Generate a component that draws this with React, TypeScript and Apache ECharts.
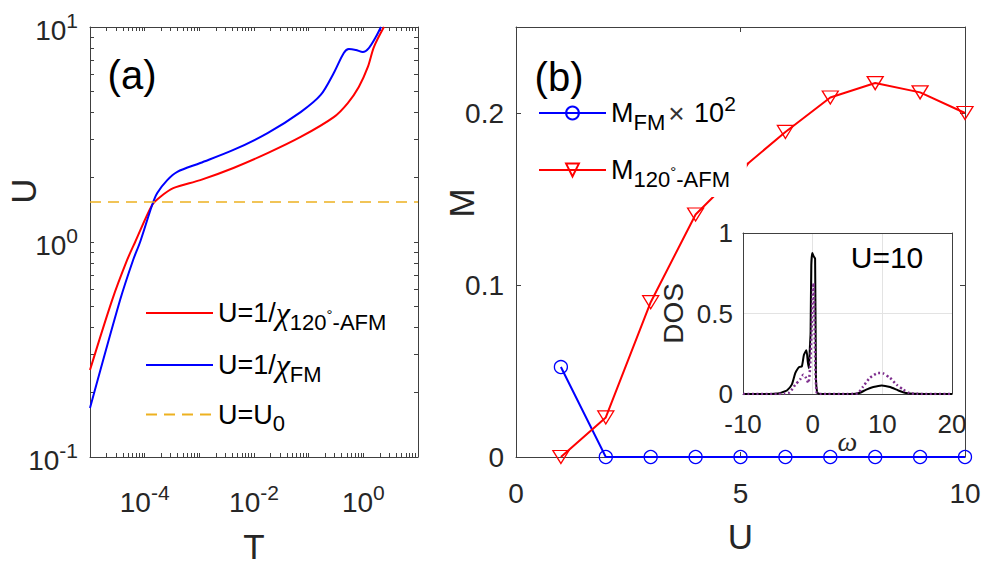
import React, { useEffect, useRef } from 'react';
import * as echarts from 'echarts';

// ---------- Panel (a): U vs T (log-log) ----------
const tAFM = [1e-5, 2.54e-5, 4.78e-5, 6.7e-5, 1.37e-4, 1.92e-4, 3.33e-4, 1.04e-3, 4.2e-3, 0.0177, 0.0713, 0.288, 0.52, 0.826, 1.21, 1.56, 2.38];
const uAFM = [0.254, 0.537, 0.825, 1.0, 1.486, 1.62, 1.78, 1.94, 2.21, 2.59, 3.08, 3.81, 4.43, 5.26, 6.52, 8.07, 10.0];
const tFM = [1e-5, 3.55e-5, 6.15e-5, 8.26e-5, 1.37e-4, 1.7e-4, 2.59e-4, 3.95e-4, 1.04e-3, 4.2e-3, 0.0177, 0.0713, 0.166, 0.288, 0.439, 0.542, 0.728, 0.98, 1.26, 1.69, 2.1];
const uFM = [0.169, 0.537, 0.825, 1.0, 1.486, 1.69, 1.94, 2.12, 2.33, 2.68, 3.21, 4.02, 4.83, 6.11, 7.57, 7.9, 7.82, 7.65, 7.98, 8.98, 10.0];
const U0 = 1.535;
const tLimits = [1e-5, 10];
const uLimits = [0.1, 10];
const aXLabelExps = [-4, -2, 0];
const aYLabelExps = [-1, 0, 1];

// ---------- Panel (b): M vs U ----------
const uSweep = [1, 2, 3, 4, 5, 6, 7, 8, 9, 10];
const mFM = [0.0523, 0, 0, 0, 0, 0, 0, 0, 0, 0];
const mAFM = [0, 0.023, 0.09, 0.141, 0.167, 0.189, 0.209, 0.2174, 0.212, 0.2];
const bYTicks = [0, 0.1, 0.2];

// ---------- Inset: DOS vs omega ----------
const omegaTotal = [-10, -6, -5, -4.4, -3.7, -3.0, -2.5, -2.1, -1.9, -1.55, -1.25, -0.9, -0.7, -0.55, -0.4, -0.3, -0.2, -0.05, 0.15, 0.35, 0.47, 0.65, 1.0, 3, 5, 6.2, 6.8, 7.7, 8.7, 9.9, 11.1, 12.3, 13.4, 14.5, 17, 20];
const dosTotal = [0, 0, 0.003, 0.01, 0.022, 0.058, 0.13, 0.16, 0.168, 0.172, 0.244, 0.271, 0.2, 0.16, 0.29, 0.38, 0.8, 0.876, 0.855, 0.84, 0.11, 0.01, 0, 0, 0, 0.002, 0.008, 0.027, 0.043, 0.053, 0.043, 0.022, 0.006, 0.001, 0, 0];
const omegaPart = [-10, -5, -4, -3.3, -2.5, -1.8, -1.34, -0.96, -0.62, -0.39, -0.15, 0.04, 0.12, 0.2, 0.37, 0.57, 1, 5, 5.8, 6.5, 7.2, 8.2, 9.4, 10.1, 11.1, 12.05, 13, 13.9, 15, 20];
const dosPart = [0, 0, 0.003, 0.01, 0.058, 0.09, 0.12, 0.1, 0.068, 0.15, 0.4, 0.65, 0.69, 0.6, 0.19, 0.01, 0, 0, 0.001, 0.005, 0.043, 0.1, 0.13, 0.128, 0.1, 0.058, 0.027, 0.006, 0.001, 0];

const FONT = '"Liberation Sans", Arial, Helvetica, sans-serif';
const SERIF = '"Liberation Serif", "DejaVu Serif", serif';
const TXT = '#262626';
const AXC = '#404040';
const RED = '#ff0000';
const BLUE = '#0000ff';
const ORANGE = '#EDB120';
const PURPLE = '#7E2F8E';

const zip = (a: number[], b: number[]) => a.map((v, i) => [v, b[i]]);

// log-decade tick positions (in log10 space) for the decorative axes of panel (a)
function logTicks(lo: number, hi: number): number[] {
  const out: number[] = [];
  for (let n = lo; n < hi; n++) for (let k = 1; k <= 9; k++) out.push(n + Math.log10(k));
  out.push(hi);
  return out;
}

const supRich = {
  b: { fontSize: 28, lineHeight: 34, verticalAlign: 'bottom', color: TXT, fontFamily: FONT },
  p: { fontSize: 21, lineHeight: 34, verticalAlign: 'top', color: TXT, fontFamily: FONT },
};

const legendText: Record<string, string> = {
  afm: '{b|U=1/}{c|χ}{s|120}{d|°}{s|-AFM}',
  fm: '{b|U=1/}{c|χ}{s|FM}',
  u0: '{b|U=U}{s|0}',
  mfm: '{b|M}{s|FM}{x|×}{b| 10}{p|2}',
  mafm: '{b|M}{s|120}{d|°}{s|-AFM}',
};

const legendRich = {
  b: { fontSize: 27, lineHeight: 40, verticalAlign: 'middle', fontFamily: FONT, color: '#000' },
  c: { fontSize: 32, lineHeight: 40, verticalAlign: 'middle', fontFamily: SERIF, fontStyle: 'italic', color: '#000' },
  s: { fontSize: 22, lineHeight: 40, verticalAlign: 'bottom', fontFamily: FONT, color: '#000' },
  d: { fontSize: 15, lineHeight: 40, verticalAlign: 'top', padding: [14, 0, 0, 0], fontFamily: FONT, color: '#000' },
  x: { fontSize: 28, lineHeight: 40, verticalAlign: 'middle', padding: [0, 2, 0, 3], fontFamily: FONT, color: '#333' },
  p: { fontSize: 21, lineHeight: 40, verticalAlign: 'top', fontFamily: FONT, color: '#000' },
};

const nameStyle = (extra: any = {}) => ({ fontSize: 35, color: TXT, fontFamily: FONT, ...extra });
const line = { show: true, onZero: false, lineStyle: { color: AXC, width: 1 } };
const tick = (len: number, custom?: number[]) => ({
  show: true, inside: true, length: len, lineStyle: { color: AXC, width: 1 },
  ...(custom ? { customValues: custom } : {}),
});

function buildOption() {
  const aXTicks = logTicks(-5, 1);
  const aYTicks = logTicks(-1, 1);
  const triDown = 'path://M0,0L20,0L10,17Z';

  return {
    animation: false,
    backgroundColor: '#fff',
    grid: [
      { left: 90, top: 27, width: 328, height: 430 },
      { left: 516, top: 27, width: 449, height: 430 },
      { left: 743, top: 233, width: 209, height: 161, show: true, backgroundColor: '#fff', borderWidth: 0 },
      { left: 90, top: 27, width: 328, height: 430 },
    ],
    xAxis: [
      { gridIndex: 0, type: 'log', logBase: 10, min: tLimits[0], max: tLimits[1], show: false },
      {
        gridIndex: 1, type: 'value', min: 0, max: 10, interval: 5, position: 'bottom',
        axisLine: line, axisTick: tick(5), splitLine: { show: false },
        axisLabel: { fontSize: 28, color: TXT, fontFamily: FONT, margin: 22 },
        name: 'U', nameLocation: 'middle', nameGap: 62, nameMoveOverlap: false, nameTextStyle: nameStyle(),
      },
      {
        gridIndex: 1, type: 'value', min: 0, max: 10, interval: 5, position: 'top',
        axisLine: line, axisTick: tick(5), axisLabel: { show: false }, splitLine: { show: false },
      },
      {
        gridIndex: 2, type: 'value', min: -10, max: 20, interval: 10, position: 'bottom',
        axisLine: line, axisTick: { show: false },
        splitLine: { show: true, lineStyle: { color: '#e3e3e3', width: 1 } },
        axisLabel: { fontSize: 26, color: TXT, fontFamily: FONT, margin: 17 },
        name: 'ω', nameLocation: 'middle', nameGap: 33, nameMoveOverlap: false,
        nameTextStyle: { fontSize: 28, color: TXT, fontFamily: SERIF, fontStyle: 'italic' },
      },
      {
        gridIndex: 2, type: 'value', min: -10, max: 20, position: 'top',
        axisLine: line, axisTick: { show: false }, axisLabel: { show: false }, splitLine: { show: false },
      },
      {
        gridIndex: 3, type: 'value', min: -5, max: 1, position: 'bottom',
        axisLine: line, axisTick: tick(4, aXTicks), splitLine: { show: false },
        axisLabel: {
          customValues: aXLabelExps, margin: 25, fontSize: 28, color: TXT, fontFamily: FONT,
          formatter: (v: number) => `{b|10}{p|${v}}`, rich: supRich,
        },
        name: 'T', nameLocation: 'middle', nameGap: 72, nameMoveOverlap: false, nameTextStyle: nameStyle(),
      },
      {
        gridIndex: 3, type: 'value', min: -5, max: 1, position: 'top',
        axisLine: line, axisTick: tick(4, aXTicks), axisLabel: { show: false }, splitLine: { show: false },
      },
    ],
    yAxis: [
      { gridIndex: 0, type: 'log', logBase: 10, min: uLimits[0], max: uLimits[1], show: false },
      {
        gridIndex: 1, type: 'value', min: 0, max: 0.25, position: 'left',
        axisLine: line, axisTick: tick(5, bYTicks), splitLine: { show: false },
        axisLabel: { customValues: bYTicks, fontSize: 28, color: TXT, fontFamily: FONT, margin: 12 },
        name: 'M', nameLocation: 'middle', nameGap: 37, nameMoveOverlap: false,
        nameTextStyle: nameStyle({ padding: [0, 0, 0, 78] }),
      },
      {
        gridIndex: 1, type: 'value', min: 0, max: 0.25, position: 'right',
        axisLine: line, axisTick: tick(5, bYTicks), axisLabel: { show: false }, splitLine: { show: false },
      },
      {
        gridIndex: 2, type: 'value', min: 0, max: 1, interval: 0.5, position: 'left',
        axisLine: line, axisTick: { show: false },
        splitLine: { show: true, lineStyle: { color: '#e3e3e3', width: 1 } },
        axisLabel: { fontSize: 26, color: TXT, fontFamily: FONT, margin: 10 },
        name: 'DOS', nameLocation: 'middle', nameGap: 56, nameMoveOverlap: false,
        nameTextStyle: { fontSize: 28, color: TXT, fontFamily: FONT },
      },
      {
        gridIndex: 2, type: 'value', min: 0, max: 1, position: 'right',
        axisLine: line, axisTick: { show: false }, axisLabel: { show: false }, splitLine: { show: false },
      },
      {
        gridIndex: 3, type: 'value', min: -1, max: 1, position: 'left',
        axisLine: line, axisTick: tick(4, aYTicks), splitLine: { show: false },
        axisLabel: {
          customValues: aYLabelExps, margin: 12, fontSize: 28, color: TXT, fontFamily: FONT,
          formatter: (v: number) => `{b|10}{p|${v}}`, rich: supRich,
        },
        name: 'U', nameLocation: 'middle', nameGap: 49, nameMoveOverlap: false,
        nameTextStyle: nameStyle({ padding: [0, 0, 0, 102] }),
      },
      {
        gridIndex: 3, type: 'value', min: -1, max: 1, position: 'right',
        axisLine: line, axisTick: tick(4, aYTicks), axisLabel: { show: false }, splitLine: { show: false },
      },
    ],
    legend: [
      {
        left: 145, top: 293, orient: 'vertical', itemWidth: 67, itemHeight: 16, itemGap: 16,
        padding: 0, selectedMode: false, data: ['afm', 'fm', 'u0'],
        formatter: (n: string) => legendText[n],
        textStyle: { fontFamily: FONT, fontSize: 27, color: '#000', rich: legendRich },
        itemStyle: { opacity: 0 },
      },
      {
        left: 536, top: 89, orient: 'vertical', itemWidth: 67, itemHeight: 16, itemGap: 17,
        padding: [4, 11, 7, 2], backgroundColor: '#fff', selectedMode: false, data: ['mfm', 'mafm'],
        formatter: (n: string) => legendText[n],
        textStyle: { fontFamily: FONT, fontSize: 27, color: '#000', rich: legendRich },
      },
    ],
    series: [
      {
        name: 'afm', type: 'line', xAxisIndex: 0, yAxisIndex: 0, data: zip(tAFM, uAFM),
        smooth: 0.3, symbol: 'none', color: RED, lineStyle: { color: RED, width: 2 }, silent: true,
      },
      {
        name: 'fm', type: 'line', xAxisIndex: 0, yAxisIndex: 0, data: zip(tFM, uFM),
        smooth: 0.3, symbol: 'none', color: BLUE, lineStyle: { color: BLUE, width: 2 }, silent: true,
      },
      {
        name: 'u0', type: 'line', xAxisIndex: 0, yAxisIndex: 0, data: [[tLimits[0], U0], [tLimits[1], U0]],
        symbol: 'none', color: ORANGE, lineStyle: { color: ORANGE, width: 1.6, type: [11, 7] }, silent: true,
      },
      {
        name: 'mfm', type: 'line', xAxisIndex: 1, yAxisIndex: 1, data: zip(uSweep, mFM),
        symbol: 'circle', symbolSize: 13, showAllSymbol: true, color: BLUE,
        itemStyle: { color: 'rgba(255,255,255,0)', borderColor: BLUE, borderWidth: 1.3 },
        lineStyle: { color: BLUE, width: 2 }, silent: true, z: 3,
      },
      {
        name: 'mafm', type: 'line', xAxisIndex: 1, yAxisIndex: 1, data: zip(uSweep, mAFM),
        symbol: triDown, symbolSize: [16, 13], showAllSymbol: true, color: RED,
        itemStyle: { color: 'rgba(255,255,255,0)', borderColor: RED, borderWidth: 1.3 },
        lineStyle: { color: RED, width: 2 }, silent: true,
      },
      {
        name: 'dosTotal', type: 'line', xAxisIndex: 3, yAxisIndex: 3, data: zip(omegaTotal, dosTotal),
        symbol: 'none', smooth: 0.2, color: '#000', lineStyle: { color: '#000', width: 2 }, silent: true,
      },
      {
        name: 'dosPart', type: 'line', xAxisIndex: 3, yAxisIndex: 3, data: zip(omegaPart, dosPart),
        symbol: 'none', smooth: 0.2, color: PURPLE, lineStyle: { color: PURPLE, width: 2.5, type: [2, 2.5] }, silent: true,
      },
    ],
    graphic: [
      {
        type: 'text', x: 132, y: 75, z: 20,
        style: { text: '(a)', fontSize: 40, fontFamily: FONT, fill: '#000', align: 'center', verticalAlign: 'middle', textAlign: 'center', textVerticalAlign: 'middle' },
      },
      {
        type: 'text', x: 559, y: 77, z: 20,
        style: { text: '(b)', fontSize: 40, fontFamily: FONT, fill: '#000', align: 'center', verticalAlign: 'middle', textAlign: 'center', textVerticalAlign: 'middle' },
      },
      {
        type: 'text', x: 887, y: 257, z: 20,
        style: { text: 'U=10', fontSize: 30, fontFamily: FONT, fill: '#000', align: 'center', verticalAlign: 'middle', textAlign: 'center', textVerticalAlign: 'middle' },
      },
    ],
  };
}

export default function App() {
  const ref = useRef<HTMLDivElement>(null);
  useEffect(() => {
    if (!ref.current) return;
    const chart = echarts.init(ref.current, null, { renderer: 'svg' });
    chart.setOption(buildOption() as any);
    return () => chart.dispose();
  }, []);
  return <div ref={ref} style={{ position: 'fixed', left: 0, top: 0, width: 987, height: 569, background: '#fff' }} />;
}
